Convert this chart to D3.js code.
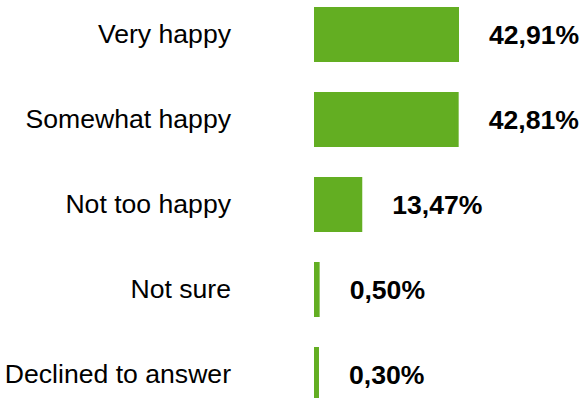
<!DOCTYPE html>
<html>
<head>
<meta charset="utf-8">
<script src="https://cdn.jsdelivr.net/npm/d3@7"></script>
<style>
  html, body { margin: 0; padding: 0; background: #ffffff; }
  svg { display: block; }
  text { font-family: Arial, "Liberation Sans", sans-serif; font-size: 26.6px; fill: #000; }
</style>
</head>
<body>
<svg id="chart" width="583" height="398"></svg>
<script>
// Survey answers and their shares (percent)
const categories = ["Very happy", "Somewhat happy", "Not too happy", "Not sure", "Declined to answer"];
const shares = [42.91, 42.81, 13.47, 0.50, 0.30];

const fmt = v => v.toFixed(2).replace(".", ",") + "%";

const svg = d3.select("#chart");
const barColor = "#63ae22";
const strokeW = 4;

// horizontal value scale; bars grow rightwards from x0
const x0 = 316;
const x = d3.scaleLinear().domain([0, 42.91]).range([x0, x0 + 141]);

// one row per category
const y = d3.scaleBand()
  .domain(categories)
  .range([-8, 417])
  .paddingInner(0.4)
  .paddingOuter(0.2);

const rows = categories.map((c, i) => ({ cat: c, val: shares[i] }));

const g = svg.append("g");

g.selectAll("rect.bar")
  .data(rows)
  .join("rect")
  .attr("class", "bar")
  .attr("x", x(0))
  .attr("y", d => y(d.cat))
  .attr("width", d => x(d.val) - x(0))
  .attr("height", y.bandwidth())
  .attr("fill", barColor)
  .attr("stroke", barColor)
  .attr("stroke-width", strokeW);

// category names, right-aligned before the bars
g.selectAll("text.cat")
  .data(rows)
  .join("text")
  .attr("class", "cat")
  .attr("x", 231)
  .attr("y", d => y(d.cat) + y.bandwidth() / 2)
  .attr("dy", "0.33em")
  .attr("text-anchor", "end")
  .text(d => d.cat);

// value labels after each bar
g.selectAll("text.val")
  .data(rows)
  .join("text")
  .attr("class", "val")
  .attr("x", d => x(d.val) + 32)
  .attr("y", d => y(d.cat) + y.bandwidth() / 2)
  .attr("dy", "0.36em")
  .attr("font-weight", "bold")
  .text(d => fmt(d.val));
</script>
</body>
</html>
